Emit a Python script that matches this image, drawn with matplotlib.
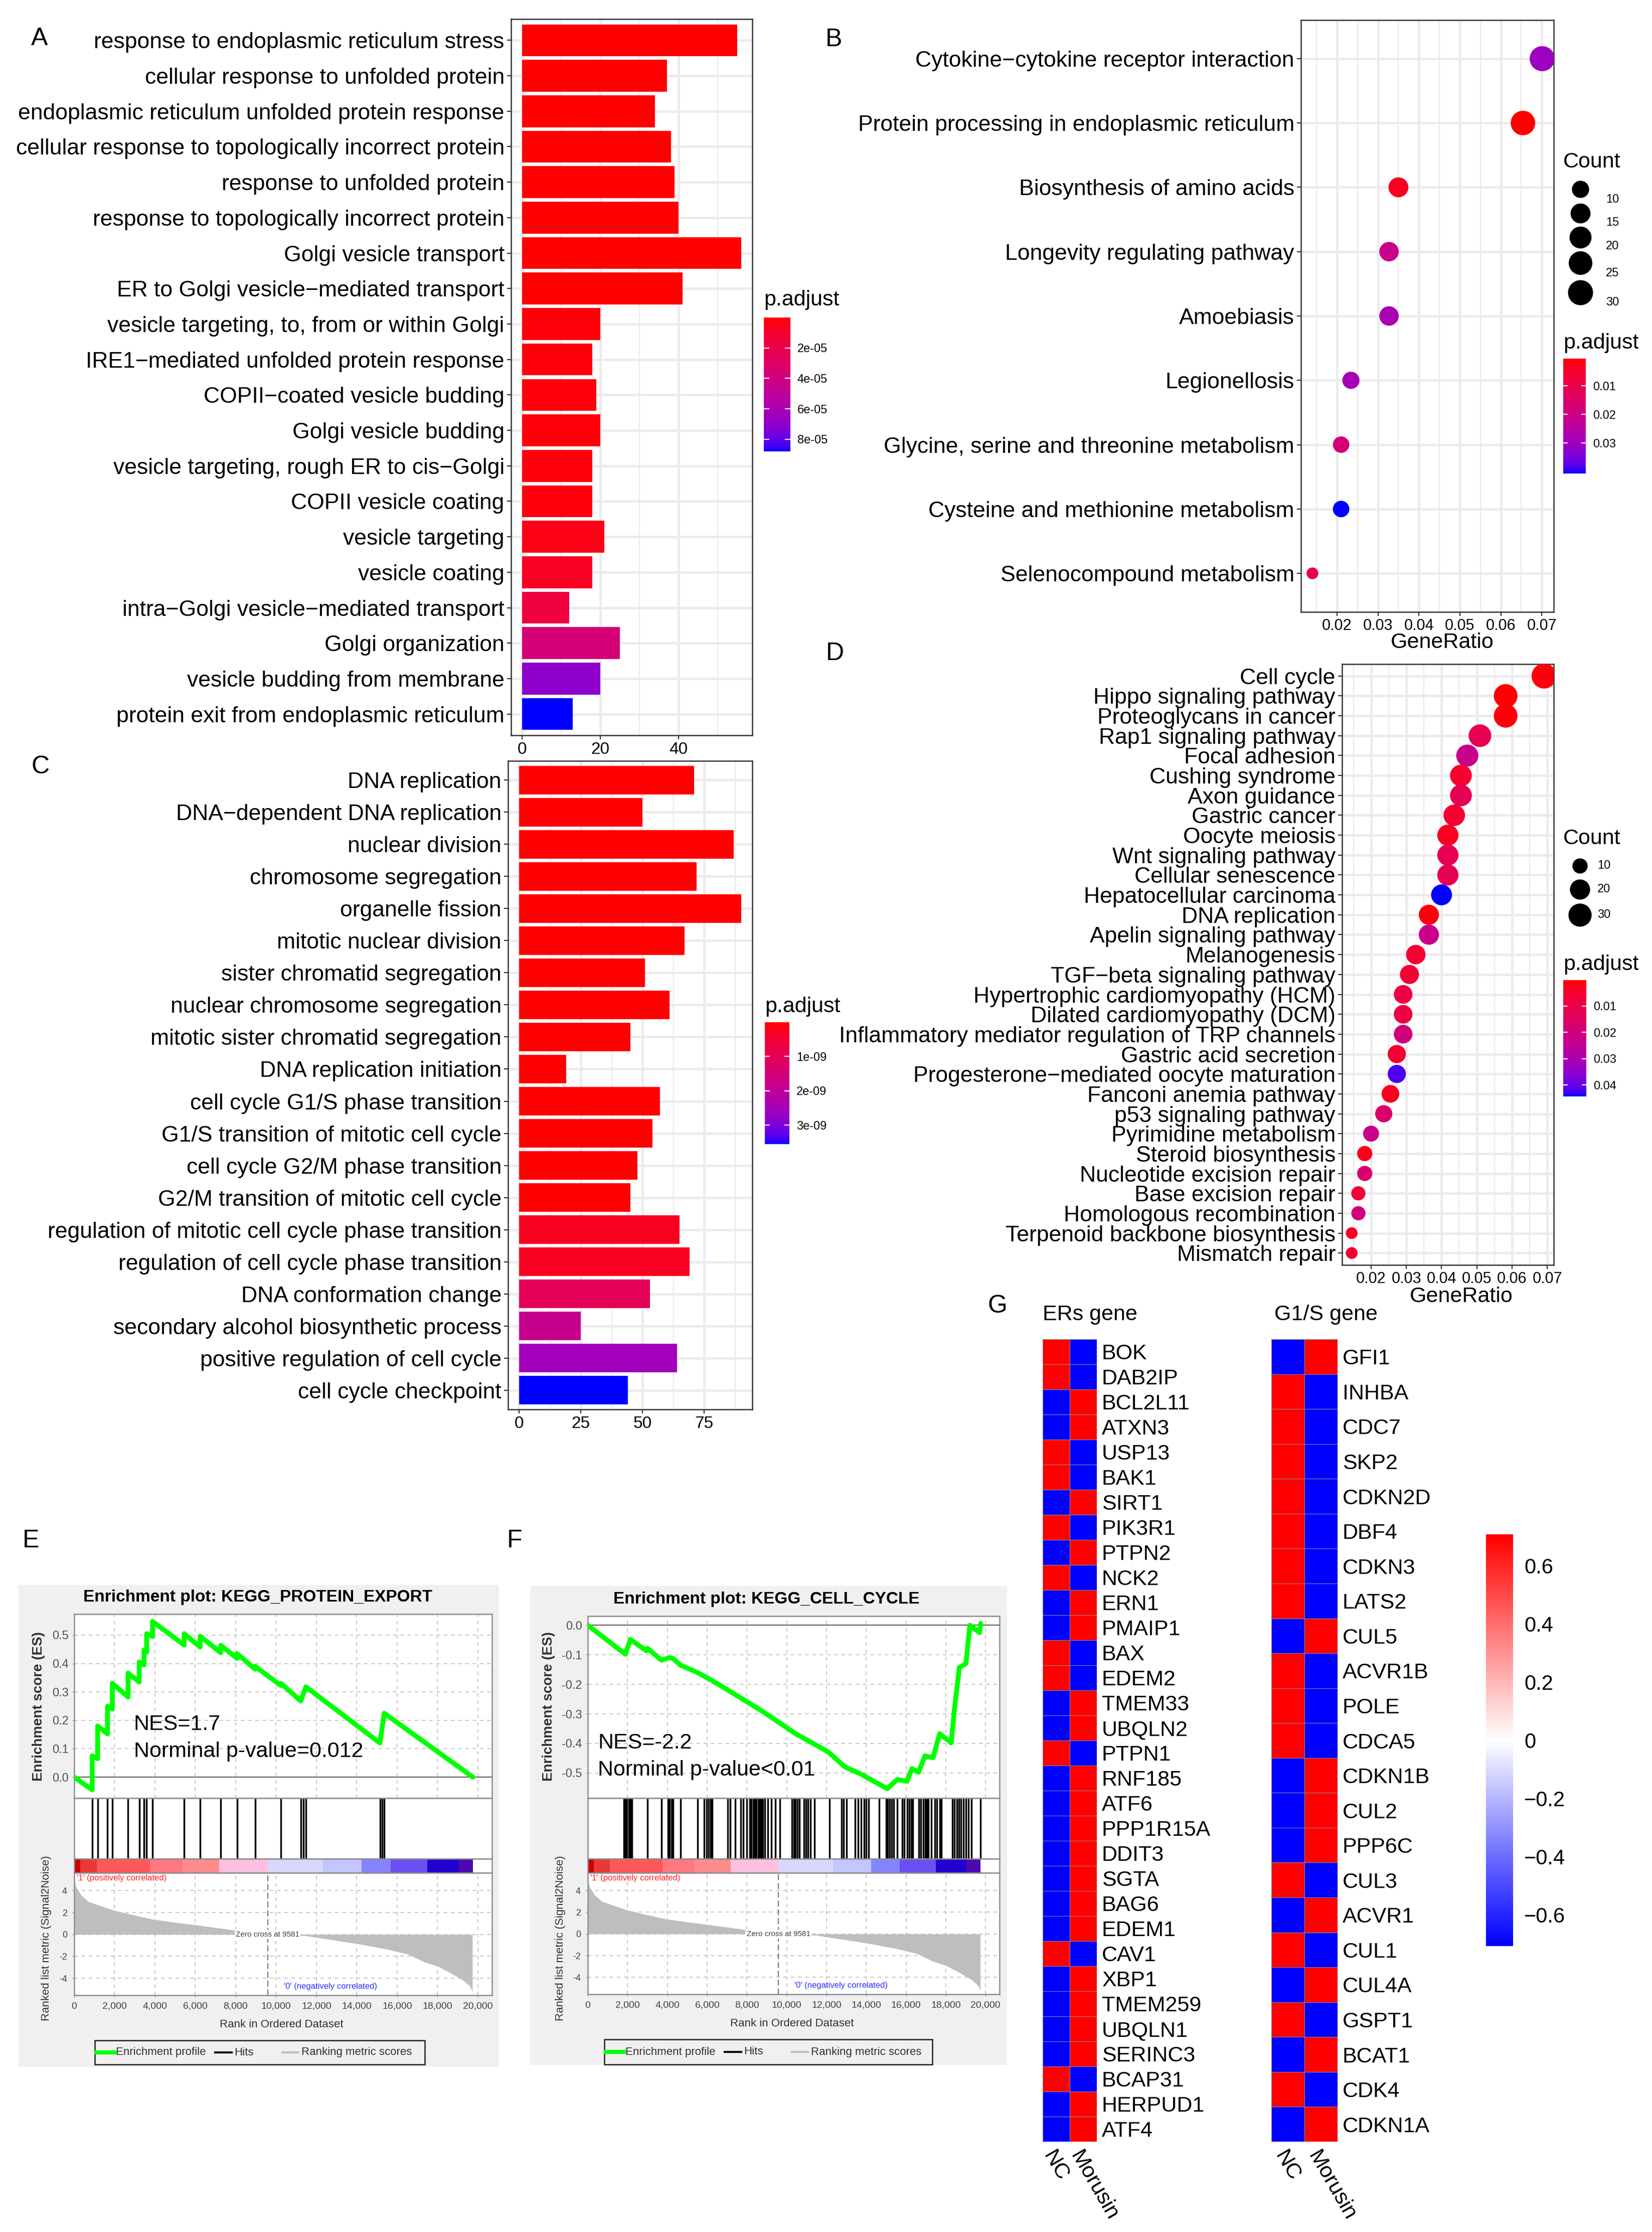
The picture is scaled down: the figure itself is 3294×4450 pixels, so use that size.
import numpy as np
import matplotlib
matplotlib.use('Agg')
import matplotlib.pyplot as plt
from matplotlib.colors import ListedColormap, LinearSegmentedColormap, Normalize
from matplotlib.patches import Rectangle

plt.rcParams['font.family'] = ['Liberation Sans', 'DejaVu Sans']
plt.rcParams['axes.unicode_minus'] = False

# ------------------------------------------------------------------ data
A_terms = ["response to endoplasmic reticulum stress", "cellular response to unfolded protein",
           "endoplasmic reticulum unfolded protein response",
           "cellular response to topologically incorrect protein", "response to unfolded protein",
           "response to topologically incorrect protein", "Golgi vesicle transport",
           "ER to Golgi vesicle\u2212mediated transport", "vesicle targeting, to, from or within Golgi",
           "IRE1\u2212mediated unfolded protein response", "COPII\u2212coated vesicle budding",
           "Golgi vesicle budding", "vesicle targeting, rough ER to cis\u2212Golgi", "COPII vesicle coating",
           "vesicle targeting", "vesicle coating", "intra\u2212Golgi vesicle\u2212mediated transport",
           "Golgi organization", "vesicle budding from membrane", "protein exit from endoplasmic reticulum"]
A_count = [55, 37, 34, 38, 39, 40, 56, 41, 20, 18, 19, 20, 18, 18, 21, 18, 12, 25, 20, 13]
A_padj = [1.0e-10, 1.5e-10, 2.0e-10, 1.6e-10, 1.4e-10, 1.3e-10, 1.2e-10, 3.0e-10, 1.3e-6, 1.5e-6,
          1.6e-6, 1.7e-6, 1.9e-6, 2.0e-6, 3.5e-6, 7.0e-6, 1.6e-5, 3.7e-5, 7.0e-5, 8.8e-5]
A_xticks = [0, 20, 40]
A_cticks = [2e-5, 4e-5, 6e-5, 8e-5]

B_terms = ["Cytokine\u2212cytokine receptor interaction", "Protein processing in endoplasmic reticulum",
           "Biosynthesis of amino acids", "Longevity regulating pathway", "Amoebiasis", "Legionellosis",
           "Glycine, serine and threonine metabolism", "Cysteine and methionine metabolism",
           "Selenocompound metabolism"]
B_ratio = [0.0701, 0.0654, 0.0350, 0.0327, 0.0327, 0.0234, 0.0210, 0.0210, 0.0140]
B_count = [30, 28, 15, 14, 14, 10, 9, 9, 6]
B_padj = [0.0300, 0.0005, 0.0033, 0.0206, 0.0280, 0.0285, 0.0172, 0.0407, 0.0118]
B_size_legend = [10, 15, 20, 25, 30]
B_cticks = [0.01, 0.02, 0.03]

C_terms = ["DNA replication", "DNA\u2212dependent DNA replication", "nuclear division",
           "chromosome segregation", "organelle fission", "mitotic nuclear division",
           "sister chromatid segregation", "nuclear chromosome segregation",
           "mitotic sister chromatid segregation", "DNA replication initiation",
           "cell cycle G1/S phase transition", "G1/S transition of mitotic cell cycle",
           "cell cycle G2/M phase transition", "G2/M transition of mitotic cell cycle",
           "regulation of mitotic cell cycle phase transition", "regulation of cell cycle phase transition",
           "DNA conformation change", "secondary alcohol biosynthetic process",
           "positive regulation of cell cycle", "cell cycle checkpoint"]
C_count = [71, 50, 87, 72, 90, 67, 51, 61, 45, 19, 57, 54, 48, 45, 65, 69, 53, 25, 64, 44]
C_padj = [1e-13, 2e-13, 1e-13, 1e-13, 1e-13, 1e-13, 5e-13, 5e-13, 1e-12, 2e-12, 5e-12, 6e-12,
          8e-12, 1e-11, 2.5e-10, 2.5e-10, 1.0e-9, 1.85e-9, 2.55e-9, 3.55e-9]
C_xticks = [0, 25, 50, 75]
C_cticks = [1e-9, 2e-9, 3e-9]

D_terms = ["Cell cycle", "Hippo signaling pathway", "Proteoglycans in cancer", "Rap1 signaling pathway",
           "Focal adhesion", "Cushing syndrome", "Axon guidance", "Gastric cancer", "Oocyte meiosis",
           "Wnt signaling pathway", "Cellular senescence", "Hepatocellular carcinoma", "DNA replication",
           "Apelin signaling pathway", "Melanogenesis", "TGF\u2212beta signaling pathway",
           "Hypertrophic cardiomyopathy (HCM)", "Dilated cardiomyopathy (DCM)",
           "Inflammatory mediator regulation of TRP channels", "Gastric acid secretion",
           "Progesterone\u2212mediated oocyte maturation", "Fanconi anemia pathway", "p53 signaling pathway",
           "Pyrimidine metabolism", "Steroid biosynthesis", "Nucleotide excision repair",
           "Base excision repair", "Homologous recombination", "Terpenoid backbone biosynthesis",
           "Mismatch repair"]
D_count = [38, 32, 32, 28, 26, 25, 25, 24, 23, 23, 23, 22, 20, 20, 18, 17, 16, 16, 16, 15, 15, 14,
           13, 11, 10, 10, 9, 9, 8, 8]
D_ratio = [0.0691, 0.0582, 0.0582, 0.0509, 0.0473, 0.0455, 0.0455, 0.0436, 0.0418, 0.0418, 0.0418,
           0.0400, 0.0364, 0.0364, 0.0327, 0.0309, 0.0291, 0.0291, 0.0291, 0.0273, 0.0273, 0.0255,
           0.0236, 0.0200, 0.0182, 0.0182, 0.0164, 0.0164, 0.0145, 0.0145]
D_padj = [0.0010, 0.0001, 0.0008, 0.0116, 0.0222, 0.0054, 0.0125, 0.0058, 0.0035, 0.0120, 0.0120,
          0.0443, 0.0012, 0.0222, 0.0060, 0.0065, 0.0090, 0.0090, 0.0200, 0.0060, 0.0420, 0.0035,
          0.0160, 0.0222, 0.0030, 0.0170, 0.0065, 0.0200, 0.0040, 0.0060]
D_size_legend = [10, 20, 30]
D_cticks = [0.01, 0.02, 0.03, 0.04]
ratio_ticks = [0.02, 0.03, 0.04, 0.05, 0.06, 0.07]

# GSEA (shared ranked list)
rank_ticks = [0, 2000, 4000, 6000, 8000, 10000, 12000, 14000, 16000, 18000, 20000]
metric_rank = [0, 100, 356, 700, 1160, 1970, 3000, 3900, 5000, 6000, 7630, 9581,
               9581, 11500, 14100, 15500, 16530, 17330, 18000, 18630, 19280, 19600, 19730]
metric_val = [4.9, 4.3, 3.56, 3.0, 2.7, 2.2, 1.75, 1.38, 1.1, 0.87, 0.47, 0.0,
              0.0, -0.13, -0.87, -1.35, -1.8, -2.5, -2.9, -3.5, -4.2, -4.7, -5.2]
zero_cross = 9581
strip_bounds = [0, 290, 1120, 3750, 5380, 7190, 9581, 12330, 14250, 15690, 17500, 19040, 19750]
strip_colors = ['#C80000', '#E83838', '#FF5858', '#FF7880', '#FF8C8C', '#FFC0E0', '#D8D8FF',
                '#C4C4FF', '#8484FF', '#6A50F0', '#2000D0', '#4B0AAE']

E_es_rank = [0, 890, 890, 1160, 1160, 1650, 1650, 1890, 1890, 2670, 2670, 3220, 3220, 3460, 3460,
             3590, 3590, 3880, 3880, 5450, 5450, 6240, 6240, 7260, 7260, 8070, 8070, 8960, 8960,
             10250, 10250, 11220, 11480, 15150, 15360, 19750]
E_es = [0.0, -0.045, 0.075, 0.065, 0.18, 0.152, 0.25, 0.24, 0.33, 0.282, 0.366, 0.335, 0.405, 0.395,
        0.448, 0.44, 0.505, 0.495, 0.548, 0.465, 0.505, 0.458, 0.496, 0.438, 0.464, 0.418, 0.435,
        0.38, 0.39, 0.322, 0.33, 0.268, 0.318, 0.12, 0.225, 0.0]
E_hits = [890, 1160, 1650, 1890, 2670, 3220, 3460, 3590, 3880, 5450, 6240, 7260, 8070, 8960, 10250,
          11220, 11350, 11480, 15150, 15260, 15360]
E_ticks = [0.0, 0.1, 0.2, 0.3, 0.4, 0.5]

F_es_rank = [0, 1890, 2140, 2960, 3000, 3700, 4100, 4280, 4660, 5510, 6250, 7160, 8800, 10450,
             12100, 12920, 13740, 14570, 15060, 15560, 16050, 16300, 16630, 16950, 17360, 17690,
             18270, 18440, 18680, 19010, 19210, 19700, 19750]
F_es = [0.0, -0.098, -0.048, -0.087, -0.078, -0.118, -0.11, -0.112, -0.135, -0.16, -0.187, -0.224,
        -0.292, -0.367, -0.429, -0.479, -0.504, -0.535, -0.553, -0.522, -0.528, -0.485, -0.497,
        -0.442, -0.448, -0.367, -0.398, -0.28, -0.143, -0.13, 0.0, -0.025, 0.006]
F_hits = [1810, 1890, 1975, 2060, 2140, 2220, 3000, 3700, 4030, 4120, 4200, 4280, 4660, 5510, 5840,
          5980, 6070, 6170, 6260, 7030, 7160, 7410, 7700, 7820, 7980, 8150, 8230, 8310, 8400, 8480,
          8560, 8640, 8720, 8810, 8890, 9050, 9220, 9430, 9660, 10260, 10370, 10450, 10550, 10650,
          10860, 10980, 11080, 11190, 11390, 12150, 12760, 12870, 13000, 13450, 13580, 13740, 13880,
          13990, 14120, 14650, 15000, 15090, 15190, 15280, 15390, 15560, 15800, 15920, 16050, 16160,
          16260, 16350, 16630, 16740, 16870, 16970, 17040, 17120, 17280, 17450, 17560, 17690, 17780,
          18320, 18440, 18550, 18650, 18760, 18880, 19010, 19140, 19280, 19750]
F_ticks = [0.0, -0.1, -0.2, -0.3, -0.4, -0.5]

# Heatmaps (row z-scores)
ER_genes = ["BOK", "DAB2IP", "BCL2L11", "ATXN3", "USP13", "BAK1", "SIRT1", "PIK3R1", "PTPN2", "NCK2",
            "ERN1", "PMAIP1", "BAX", "EDEM2", "TMEM33", "UBQLN2", "PTPN1", "RNF185", "ATF6",
            "PPP1R15A", "DDIT3", "SGTA", "BAG6", "EDEM1", "CAV1", "XBP1", "TMEM259", "UBQLN1",
            "SERINC3", "BCAP31", "HERPUD1", "ATF4"]
ER_NC = [0.71, 0.71, -0.71, -0.71, 0.71, 0.71, -0.71, 0.71, -0.71, 0.71, -0.71, -0.71, 0.71, 0.71,
         -0.71, -0.71, 0.71, -0.71, -0.71, -0.71, -0.71, -0.71, -0.71, -0.71, 0.71, -0.71, -0.71,
         -0.71, -0.71, 0.71, -0.71, -0.71]
ER_Morusin = [-0.71, -0.71, 0.71, 0.71, -0.71, -0.71, 0.71, -0.71, 0.71, -0.71, 0.71, 0.71, -0.71,
              -0.71, 0.71, 0.71, -0.71, 0.71, 0.71, 0.71, 0.71, 0.71, 0.71, 0.71, -0.71, 0.71, 0.71,
              0.71, 0.71, -0.71, 0.71, 0.71]
G1S_genes = ["GFI1", "INHBA", "CDC7", "SKP2", "CDKN2D", "DBF4", "CDKN3", "LATS2", "CUL5", "ACVR1B",
             "POLE", "CDCA5", "CDKN1B", "CUL2", "PPP6C", "CUL3", "ACVR1", "CUL1", "CUL4A", "GSPT1",
             "BCAT1", "CDK4", "CDKN1A"]
G1S_NC = [-0.71, 0.71, 0.71, 0.71, 0.71, 0.71, 0.71, 0.71, -0.71, 0.71, 0.71, 0.71, -0.71, -0.71,
          -0.71, 0.71, -0.71, 0.71, -0.71, 0.71, -0.71, 0.71, -0.71]
G1S_Morusin = [0.71, -0.71, -0.71, -0.71, -0.71, -0.71, -0.71, -0.71, 0.71, -0.71, -0.71, -0.71,
               0.71, 0.71, 0.71, -0.71, 0.71, -0.71, 0.71, -0.71, 0.71, -0.71, 0.71]
heat_samples = ["NC", "Morusin"]
heat_ticks = [0.6, 0.4, 0.2, 0, -0.2, -0.4, -0.6]
heat_ticklabels = ["0.6", "0.4", "0.2", "0", "\u22120.2", "\u22120.4", "\u22120.6"]

# ------------------------------------------------------------------ figure
W, H = 3294, 4450
DPI = 100
PT = 72.0 / DPI
LBL = 32
fig = plt.figure(figsize=(W / DPI, H / DPI), dpi=DPI)
fig.patch.set_facecolor('white')


def axes_px(x0, y0, x1, y1):
    return fig.add_axes([x0 / W, 1 - y1 / H, (x1 - x0) / W, (y1 - y0) / H])


bg = axes_px(0, 0, W, H)
bg.set_xlim(0, W); bg.set_ylim(H, 0); bg.axis('off'); bg.set_zorder(-10)


# ggplot-like red->blue gradient (Lab interpolation)
def srgb_to_lab(rgb):
    rgb = np.asarray(rgb, float)
    lin = np.where(rgb <= 0.04045, rgb / 12.92, ((rgb + 0.055) / 1.055) ** 2.4)
    M = np.array([[0.4124, 0.3576, 0.1805], [0.2126, 0.7152, 0.0722], [0.0193, 0.1192, 0.9505]])
    xyz = (M @ lin) / np.array([0.95047, 1.0, 1.08883])
    f = np.where(xyz > 0.008856, np.cbrt(xyz), 7.787 * xyz + 16 / 116)
    return np.array([116 * f[1] - 16, 500 * (f[0] - f[1]), 200 * (f[1] - f[2])])


def lab_to_srgb(lab):
    L, a, b = lab
    fy = (L + 16) / 116
    f = np.array([fy + a / 500, fy, fy - b / 200])
    xyz = np.where(f ** 3 > 0.008856, f ** 3, (f - 16 / 116) / 7.787) * np.array([0.95047, 1.0, 1.08883])
    Minv = np.array([[3.2406, -1.5372, -0.4986], [-0.9689, 1.8758, 0.0415], [0.0557, -0.2040, 1.0570]])
    lin = np.clip(Minv @ xyz, 0, 1)
    return np.clip(np.where(lin <= 0.0031308, 12.92 * lin, 1.055 * lin ** (1 / 2.4) - 0.055), 0, 1)


_lr, _lb = srgb_to_lab([1, 0, 0]), srgb_to_lab([0, 0, 1])
padj_cmap = ListedColormap([lab_to_srgb(_lr + t * (_lb - _lr)) for t in np.linspace(0, 1, 256)])
heat_cmap = LinearSegmentedColormap.from_list('bwr_p', ['#0000FF', '#FFFFFF', '#FF0000'])

GRID = '#EBEBEB'


def gg_style(ax):
    for s in ax.spines.values():
        s.set_color('#333333'); s.set_linewidth(1.8)
    ax.tick_params(which='major', length=5.5, width=1.6, color='#333333', pad=4, labelcolor='black')
    ax.tick_params(which='minor', length=0)
    ax.set_axisbelow(True)
    ax.grid(which='major', color=GRID, lw=3.4)
    ax.grid(which='minor', axis='x', color=GRID, lw=1.7)


def mids(t, lo, hi):
    step = t[1] - t[0]
    c = [t[0] - step / 2] + [v + step / 2 for v in t]
    return [v for v in c if lo <= v <= hi]


fg_texts = []


def padj_bar(box, vmin, vmax, ticks, labels, title_y, lab_fs=17):
    cax = axes_px(*box)
    grad = np.linspace(vmin, vmax, 300)[:, None]
    cax.imshow(grad, cmap=padj_cmap, norm=Normalize(vmin, vmax), aspect='auto',
               extent=[0, 1, vmax, vmin], origin='upper')
    cax.set_xticks([])
    cax.yaxis.tick_right()
    cax.set_yticks(ticks)
    cax.set_yticklabels(labels, fontsize=lab_fs)
    cax.tick_params(length=0, pad=10)
    cax.hlines(ticks, 0, 0.2, color='white', lw=1.5)
    cax.hlines(ticks, 0.8, 1, color='white', lw=1.5)
    for s in cax.spines.values():
        s.set_visible(False)
    fg_texts.append((box[0], title_y, 'p.adjust'))


def bar_panel(box, terms, counts, padj, xticks, cbox, cticks, clabels, ctitle_y):
    ax = axes_px(*box)
    n = len(terms)
    y = np.arange(n)[::-1]
    norm = Normalize(min(padj), max(padj))
    ax.barh(y, counts, height=0.9, color=padj_cmap(norm(np.array(padj))), zorder=3)
    xm = max(counts)
    ax.set_xlim(-0.05 * xm, 1.05 * xm)
    ax.set_ylim(-0.6, n - 0.4)
    ax.set_yticks(y)
    ax.set_yticklabels(terms, fontsize=LBL)
    ax.set_xticks(xticks)
    ax.set_xticklabels([str(v) for v in xticks], fontsize=24)
    ax.set_xticks(mids(xticks, -0.05 * xm, 1.05 * xm), minor=True)
    gg_style(ax)
    padj_bar(cbox, min(padj), max(padj), cticks, clabels, ctitle_y)
    return ax


def dsize(c, cmin, cmax):
    d = 23.5 + 26.5 * np.sqrt((np.asarray(c, float) - cmin) / (cmax - cmin))
    return (d * PT) ** 2


def dot_panel(box, terms, ratio, counts, padj, cbox, cticks, ctitle_y):
    ax = axes_px(*box)
    n = len(terms)
    y = np.arange(n)[::-1]
    cmin, cmax = min(counts), max(counts)
    ax.scatter(ratio, y, s=dsize(counts, cmin, cmax), c=padj, cmap=padj_cmap,
               norm=Normalize(min(padj), max(padj)), linewidths=0, zorder=3)
    lo, hi = min(ratio), max(ratio)
    r = hi - lo
    ax.set_xlim(lo - 0.05 * r, hi + 0.05 * r)
    ax.set_ylim(-0.6, n - 0.4)
    ax.set_yticks(y)
    ax.set_yticklabels(terms, fontsize=LBL)
    ax.set_xticks(ratio_ticks)
    ax.set_xticklabels(['%.2f' % v for v in ratio_ticks], fontsize=22)
    ax.set_xticks(mids(ratio_ticks, lo - 0.05 * r, hi + 0.05 * r), minor=True)
    gg_style(ax)
    padj_bar(cbox, min(padj), max(padj), cticks, ['%.2f' % v for v in cticks], ctitle_y)
    return ax, cmin, cmax


# ---- A
bar_panel((1019, 38, 1500, 1466), A_terms, A_count, A_padj, A_xticks,
          (1523, 633, 1576, 900), A_cticks, ['%.0e' % v for v in A_cticks], 598)
# ---- C
bar_panel((1013, 1517, 1500, 2810), C_terms, C_count, C_padj, C_xticks,
          (1525, 2038, 1574, 2281), C_cticks, ['%.0e' % v for v in C_cticks], 2007)
# ---- B
axB, bmin, bmax = dot_panel((2594, 40, 3098, 1220), B_terms, B_ratio, B_count, B_padj,
                            (3117, 715, 3162, 944), B_cticks, 684)
# ---- D
axD, dmin, dmax = dot_panel((2676, 1324, 3098, 2522), D_terms, D_ratio, D_count, D_padj,
                            (3117, 1954, 3163, 2186), D_cticks, 1923)


# ---- GSEA panels
def gsea(es_box, hits_box, strip_box, rank_box, es_rank, es_val, hits, es_ylim, es_ticks):
    XL = (0, 20700)
    edge = '#8C8C8C'
    dash = (0, (4, 4))

    def frame(ax):
        for s in ax.spines.values():
            s.set_color(edge); s.set_linewidth(1.8)
        ax.set_xlim(*XL)

    ax1 = axes_px(*es_box)
    ax1.plot(es_rank, es_val, color='#00FF00', lw=7, solid_joinstyle='round',
             solid_capstyle='round', zorder=4)
    ax1.axhline(0, color='#505050', lw=1.3, zorder=3)
    frame(ax1)
    ax1.set_ylim(*es_ylim)
    ax1.set_xticks(rank_ticks); ax1.set_xticklabels([])
    ax1.set_yticks(es_ticks)
    ax1.set_yticklabels(['%.1f' % v for v in es_ticks], fontsize=17, color='#505050')
    ax1.grid(True, ls=dash, color='#C4C4C4', lw=1.3)
    ax1.tick_params(axis='y', length=3, width=1, color=edge, pad=5)
    ax1.tick_params(axis='x', length=0)

    ax2 = axes_px(*hits_box)
    ax2.vlines(hits, 0, 1, color='black', lw=2.5)
    frame(ax2)
    ax2.set_ylim(0, 1); ax2.set_xticks([]); ax2.set_yticks([])

    ax3 = axes_px(*strip_box)
    for i, c in enumerate(strip_colors):
        ax3.axvspan(strip_bounds[i], strip_bounds[i + 1], color=c, lw=0)
    frame(ax3)
    ax3.set_ylim(0, 1); ax3.set_xticks([]); ax3.set_yticks([])

    ax4 = axes_px(*rank_box)
    ax4.fill_between(metric_rank, metric_val, 0, color='#BEBEBE', lw=0, zorder=2)
    ax4.axvline(zero_cross, color='#707070', lw=1.4, ls=(0, (6, 3)), zorder=3)
    frame(ax4)
    ax4.set_ylim(-5.55, 5.62)
    ax4.set_yticks([4, 2, 0, -2, -4])
    ax4.set_yticklabels(['4', '2', '0', '-2', '-4'], fontsize=13, color='#404040')
    ax4.set_xticks(rank_ticks)
    ax4.set_xticklabels(['{:,}'.format(v) for v in rank_ticks], fontsize=14, color='#404040')
    ax4.grid(True, ls=dash, color='#C4C4C4', lw=1.3, zorder=1)
    ax4.set_axisbelow(True)
    ax4.tick_params(length=3, width=1, color=edge, pad=7)
    ax4.text(zero_cross, 0, 'Zero cross at %d' % zero_cross, fontsize=11, color='#404040',
             ha='center', va='center', zorder=5,
             bbox=dict(fc='white', ec='none', pad=1.5))
    ax4.text(0.006, 0.955, "'1' (positively correlated)", transform=ax4.transAxes, fontsize=12,
             color='#FF2020', ha='left', va='center')
    ax4.text(10380, -4.75, "'0' (negatively correlated)", fontsize=12, color='#3030FF',
             ha='left', va='center')
    return ax1


bg.add_patch(Rectangle((37, 3160), 958, 961, fc='#F0F0F0', ec='none'))
bg.add_patch(Rectangle((1057, 3162), 951, 955, fc='#F0F0F0', ec='none'))

gsea((148, 3218, 981, 3585), (148, 3585, 981, 3706), (148, 3706, 981, 3734), (148, 3734, 981, 3978),
     E_es_rank, E_es, E_hits, (-0.074, 0.574), E_ticks)
gsea((1172, 3222, 1993, 3585), (1172, 3585, 1993, 3706), (1172, 3706, 1993, 3734),
     (1172, 3734, 1993, 3976), F_es_rank, F_es, F_hits, (-0.585, 0.031), F_ticks)


# ---- G heatmaps
def heat(box, genes, nc, mo):
    ax = axes_px(*box)
    data = np.column_stack([nc, mo])
    n = len(genes)
    ax.pcolormesh(data, cmap=heat_cmap, vmin=-0.7071, vmax=0.7071, edgecolors='#8A8A8A',
                  linewidth=0.5)
    ax.set_xlim(0, 2); ax.set_ylim(n, 0)
    ax.yaxis.tick_right()
    ax.set_yticks(np.arange(n) + 0.5)
    ax.set_yticklabels(genes, fontsize=31)
    ax.set_xticks([0.5, 1.5])
    ax.set_xticklabels(heat_samples, fontsize=31, rotation=-60, ha='left', va='top',
                       rotation_mode='anchor')
    ax.tick_params(length=0, pad=7)
    ax.tick_params(axis='x', pad=8)
    for s in ax.spines.values():
        s.set_visible(False)
    return ax


heat((2079, 2670, 2187, 4270), ER_genes, ER_NC, ER_Morusin)
heat((2535, 2670, 2667, 4270), G1S_genes, G1S_NC, G1S_Morusin)

hcax = axes_px(2963, 3059, 3017, 3880)
hcax.imshow(np.linspace(0.7071, -0.7071, 300)[:, None], cmap=heat_cmap, vmin=-0.7071, vmax=0.7071,
            aspect='auto', extent=[0, 1, -0.7071, 0.7071], origin='upper')
hcax.set_xticks([])
hcax.yaxis.tick_right()
hcax.set_yticks(heat_ticks)
hcax.set_yticklabels(heat_ticklabels, fontsize=30)
hcax.tick_params(length=0, pad=16)
for s in hcax.spines.values():
    s.set_visible(False)

# ------------------------------------------------------------------ overlay texts
fg = axes_px(0, 0, W, H)
fg.set_xlim(0, W); fg.set_ylim(H, 0); fg.axis('off'); fg.set_zorder(10)

for x, y, s in fg_texts:
    fg.text(x, y, s, fontsize=31, ha='left', va='center')

for lab, x, y in [('A', 79, 77), ('B', 1663, 79), ('C', 81, 1529), ('D', 1665, 1303),
                  ('E', 62, 3072), ('F', 1026, 3072), ('G', 1989, 2604)]:
    fg.text(x, y, lab, fontsize=36, ha='center', va='center')

# GeneRatio labels
fg.text(2876, 1281, 'GeneRatio', fontsize=31, ha='center', va='center')
fg.text(2914, 2585, 'GeneRatio', fontsize=31, ha='center', va='center')

# Count legends
fg.text(3117, 323, 'Count', fontsize=31, ha='left', va='center')
for c, yk, yl in zip(B_size_legend, [377, 425, 473, 524, 583], [398, 444, 491, 545, 603]):
    fg.scatter([3151], [yk], s=dsize(c, bmin, bmax), color='black', linewidths=0)
    fg.text(3202, yl, str(c), fontsize=17, ha='left', va='center')
fg.text(3117, 1672, 'Count', fontsize=31, ha='left', va='center')
for c, yk in zip(D_size_legend, [1726, 1773, 1824]):
    fg.scatter([3150], [yk], s=dsize(c, dmin, dmax), color='black', linewidths=0)
    fg.text(3185, yk, str(c), fontsize=17, ha='left', va='center')

# GSEA texts
fg.text(514, 3185, 'Enrichment plot: KEGG_PROTEIN_EXPORT', fontsize=24, fontweight='bold',
        ha='center', va='center')
fg.text(1528, 3189, 'Enrichment plot: KEGG_CELL_CYCLE', fontsize=24, fontweight='bold',
        ha='center', va='center')
for x, yc in [(77, 3402), (1094, 3402)]:
    fg.text(x, yc, 'Enrichment score (ES)', fontsize=20, fontweight='bold', rotation=90,
            ha='center', va='center', color='#303030')
for x in [93, 1117]:
    fg.text(x, 3864, 'Ranked list metric (Signal2Noise)', fontsize=16, rotation=90,
            ha='center', va='center', color='#303030')
fg.text(561, 4036, 'Rank in Ordered Dataset', fontsize=16, ha='center', va='center', color='#303030')
fg.text(1579, 4034, 'Rank in Ordered Dataset', fontsize=16, ha='center', va='center', color='#303030')

fg.text(267, 3438, 'NES=1.7', fontsize=31, ha='left', va='center')
fg.text(267, 3492, 'Norminal p-value=0.012', fontsize=31, ha='left', va='center')
fg.text(1192, 3475, 'NES=-2.2', fontsize=31, ha='left', va='center')
fg.text(1192, 3529, 'Norminal p-value<0.01', fontsize=31, ha='left', va='center')


def gsea_legend(x0, y0, x1, y1):
    fg.add_patch(Rectangle((x0, y0), x1 - x0, y1 - y0, fill=False, ec='#303030', lw=2.0))
    yc = (y0 + y1) / 2
    fg.plot([x0 + 3, x0 + 39], [yc, yc], color='#00FF00', lw=6)
    fg.text(x0 + 42, yc, 'Enrichment profile', fontsize=16, va='center', color='#303030')
    fg.plot([x0 + 240, x0 + 273], [yc, yc], color='black', lw=3)
    fg.text(x0 + 278, yc, 'Hits', fontsize=16, va='center', color='#303030')
    fg.plot([x0 + 374, x0 + 406], [yc, yc], color='#BEBEBE', lw=3)
    fg.text(x0 + 412, yc, 'Ranking metric scores', fontsize=16, va='center', color='#303030')


gsea_legend(189, 4068, 847, 4116)
gsea_legend(1205, 4066, 1859, 4116)

# heatmap titles
fg.text(2079, 2621, 'ERs gene', fontsize=31, ha='left', va='center')
fg.text(2541, 2621, 'G1/S gene', fontsize=31, ha='left', va='center')

fig.savefig('out.png', dpi=DPI)
